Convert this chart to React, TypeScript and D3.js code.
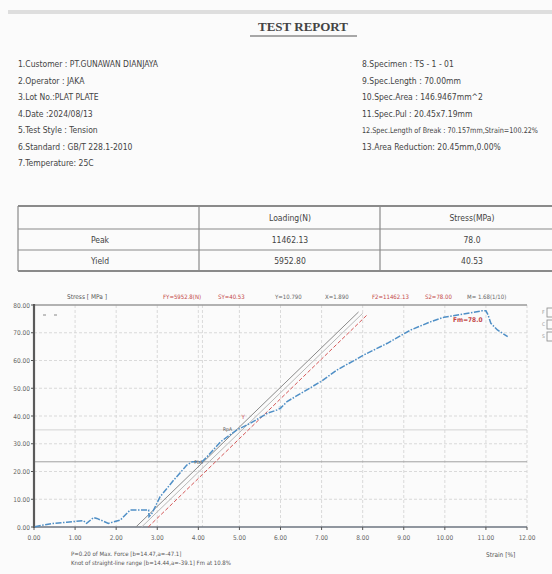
import React from 'react';
import * as d3 from 'd3';

// header text
const titleText = 'TEST REPORT';
const leftInfo = [
    '1.Customer : PT.GUNAWAN DIANJAYA',
    '2.Operator : JAKA',
    '3.Lot No.:PLAT PLATE',
    '4.Date      :2024/08/13',
    '5.Test Style : Tension',
    '6.Standard : GB/T 228.1-2010',
    '7.Temperature: 25C',
];
const rightInfo = [
    '8.Specimen    : TS - 1 - 01',
    '9.Spec.Length : 70.00mm',
    '10.Spec.Area   : 146.9467mm^2',
    '11.Spec.Pul    : 20.45x7.19mm',
    '12.Spec.Length of Break : 70.157mm,Strain=100.22%',
    '13.Area Reduction: 20.45mm,0.00%',
];

// result table
const tableCols = ['', 'Loading(N)', 'Stress(MPa)'];
const tableRows = ['Peak', 'Yield'];
const tableLoad = ['11462.13', '5952.80'];
const tableStress = ['78.0', '40.53'];

// curve: strain (%) vs stress (MPa)
const strainPts = [0.02, 0.23, 0.47, 0.8, 1.2, 1.28, 1.45, 1.53, 1.81, 2.1, 2.34, 2.79, 2.8, 2.87, 3.07, 3.4, 3.72, 3.85, 4.09, 4.21, 4.54, 4.94, 5.27, 5.68, 5.92, 6.0, 6.16, 6.57, 6.98, 7.38, 8.03, 8.6, 9.17, 9.66, 9.98, 10.31, 10.63, 10.9, 11.0, 11.05, 11.12, 11.28, 11.53];
const stressPts = [0.1, 0.7, 1.3, 1.7, 2.3, 1.3, 3.4, 3.1, 1.3, 2.5, 6.1, 6.1, 3.7, 4.9, 10.9, 16.9, 22.3, 23.5, 23.5, 25.3, 30.7, 35.0, 37.4, 41.0, 42.2, 42.8, 45.2, 48.8, 52.4, 56.6, 62.0, 66.2, 71.0, 74.0, 75.6, 76.4, 77.2, 77.9, 77.9, 76.5, 73.4, 71.0, 68.6];

// modulus / offset lines (grey, light grey, red)
const lineX0 = [2.48, 2.62, 2.78];
const lineY0 = [0, 0, 0];
const lineX1 = [7.9, 8.0, 8.12];
const lineY1 = [77.5, 77.0, 76.6];

const refStress = [35, 23.5];
const xTicks = d3.range(0, 13);
const yTicks = d3.range(0, 81, 10);

const topLabels = ['FY=5952.8(N)', 'SY=40.53', 'Y=10.790', 'X=1.890', 'F2=11462.13', 'S2=78.00', 'M= 1.68(1/10)'];
const topLabelX = [163, 218, 275, 325, 372, 425, 467];
const topLabelRed = [true, true, false, false, true, true, false];

const noteLines = [
    'P=0.20 of Max. Force [b=14.47,a=-47.1]',
    'Knot of straight-line range [b=14.44,a=-39.1] Fm at 10.8%',
];

const narrow = "'Liberation Sans Narrow', 'DejaVu Sans Condensed', sans-serif";
const ink = '#444';

export default function App() {
    const x = d3.scaleLinear().domain([0, 12]).range([34, 527]);
    const y = d3.scaleLinear().domain([0, 80]).range([527, 305]);

    const curve = d3.line<number>()
        .x((_, i) => x(strainPts[i]))
        .y(d => y(d));

    const lineColors = ['#8a8a8a', '#b8b8b8', '#d45858'];
    const lineDash = ['none', 'none', '4,2'];

    const tableTop = 206;
    const rowEdges = [206, 229, 250, 271];
    const colEdges = [18, 199, 380, 560];
    const colCenters = [100, 290, 472];

    return (
        <div style={{ position: 'absolute', left: 0, top: 0 }}>
            <svg width={552} height={574} style={{ display: 'block', background: '#fbfbfb' }}>
                {/* scan edge */}
                <rect x={8} y={10} width={544} height={4} fill="#dedede" />

                {/* title */}
                <text x={303} y={31} textAnchor="middle" fontFamily="'Liberation Serif', serif" fontWeight="bold" fontSize={13} fill={ink}>{titleText}</text>
                <line x1={250} x2={357} y1={36} y2={36} stroke="#555" strokeWidth={1.2} />

                {/* info block */}
                {leftInfo.map((t, i) => (
                    <text key={'l' + i} x={18} y={67 + i * 16.5} fontFamily={narrow} fontSize={8.5} fill={ink}>{t}</text>
                ))}
                {rightInfo.map((t, i) => (
                    <text key={'r' + i} x={362} y={67 + i * 16.5} fontFamily={narrow} fontSize={i === 4 ? 7.8 : 8.5} fill={ink}
                        textLength={i === 4 ? 176 : undefined} lengthAdjust="spacingAndGlyphs">{t}</text>
                ))}

                {/* table */}
                <g stroke="#8a8a8a" fill="none">
                    {rowEdges.map((r, i) => (
                        <line key={'rw' + i} x1={colEdges[0]} x2={552} y1={r} y2={r} strokeWidth={i === 0 || i === 3 ? 2 : 1.2} />
                    ))}
                    {colEdges.slice(0, 3).map((c, i) => (
                        <line key={'cl' + i} x1={c} x2={c} y1={tableTop} y2={rowEdges[3]} strokeWidth={1.2} />
                    ))}
                </g>
                {tableCols.map((c, i) => i > 0 && (
                    <text key={'tc' + i} x={colCenters[i]} y={221} textAnchor="middle" fontFamily={narrow} fontSize={8.5} fill={ink}>{c}</text>
                ))}
                {tableRows.map((r, i) => (
                    <g key={'tr' + i} fontFamily={narrow} fontSize={8.5} fill={ink} textAnchor="middle">
                        <text x={colCenters[0]} y={243 + i * 21}>{r}</text>
                        <text x={colCenters[1]} y={243 + i * 21}>{tableLoad[i]}</text>
                        <text x={colCenters[2]} y={243 + i * 21}>{tableStress[i]}</text>
                    </g>
                ))}

                {/* chart grid */}
                <g stroke="#d2d2d2" strokeWidth={0.8} strokeDasharray="3,2">
                    {xTicks.slice(1).map(t => (
                        <line key={'gx' + t} x1={x(t)} x2={x(t)} y1={y(80)} y2={y(0)} />
                    ))}
                    {yTicks.slice(1, -1).map(t => (
                        <line key={'gy' + t} x1={x(0)} x2={x(12)} y1={y(t)} y2={y(t)} />
                    ))}
                    <line x1={x(4.1)} x2={x(4.1)} y1={y(80)} y2={y(0)} />
                </g>
                <line x1={x(0)} x2={x(12)} y1={y(refStress[0])} y2={y(refStress[0])} stroke="#cfcfcf" strokeWidth={0.9} />
                <line x1={x(0)} x2={x(12)} y1={y(refStress[1])} y2={y(refStress[1])} stroke="#a0a0a0" strokeWidth={1} />

                {/* frame / axes */}
                <line x1={x(0)} x2={x(12)} y1={y(80)} y2={y(80)} stroke="#9a9a9a" strokeWidth={1.6} />
                <line x1={x(0)} x2={x(12)} y1={y(0)} y2={y(0)} stroke="#6d7580" strokeWidth={1.4} />
                <line x1={x(0)} x2={x(0)} y1={y(80) - 1} y2={y(0) + 1} stroke="#5a5a5a" strokeWidth={2.2} />

                {yTicks.map(t => (
                    <g key={'yt' + t}>
                        <line x1={x(0) - 3} x2={x(0)} y1={y(t)} y2={y(t)} stroke="#555" strokeWidth={1} />
                        <text x={x(0) - 4} y={y(t) + 2.5} textAnchor="end" fontFamily={narrow} fontSize={6.5} fill="#666">{t.toFixed(2)}</text>
                    </g>
                ))}
                {xTicks.map(t => (
                    <g key={'xt' + t}>
                        <line x1={x(t)} x2={x(t)} y1={y(0)} y2={y(0) + 3} stroke="#555" strokeWidth={1} />
                        <text x={x(t)} y={y(0) + 13} textAnchor="middle" fontFamily={narrow} fontSize={6.5} fill="#666">{t.toFixed(2)}</text>
                    </g>
                ))}

                {/* labels above plot */}
                <text x={67} y={299} fontFamily={narrow} fontSize={6.5} fill="#555">Stress [ MPa ]</text>
                {topLabels.map((t, i) => (
                    <text key={'tl' + i} x={topLabelX[i]} y={299} fontFamily={narrow} fontSize={6} fill={topLabelRed[i] ? '#c44848' : '#666'}>{t}</text>
                ))}

                {/* reference lines */}
                {lineX0.map((_, i) => (
                    <line key={'ml' + i} x1={x(lineX0[i])} y1={y(lineY0[i])} x2={x(lineX1[i])} y2={y(lineY1[i])}
                        stroke={lineColors[i]} strokeWidth={1} strokeDasharray={lineDash[i]} />
                ))}

                {/* test curve */}
                <path d={curve(stressPts) || ''} fill="none" stroke="#4f8fc6" strokeWidth={1.5} strokeDasharray="6,1.5,1.5,1.5" />

                {/* point markers */}
                <text x={x(3.9)} y={y(22.6)} fontFamily={narrow} fontSize={5} fill="#555">PbA</text>
                <text x={x(4.6)} y={y(34.6)} fontFamily={narrow} fontSize={5} fill="#555">RpA</text>
                <text x={x(5.05)} y={y(38.8)} fontFamily={narrow} fontSize={6} fill="#c44848">Y</text>
                <text x={x(6.0) - 2} y={y(42.2)} fontFamily={narrow} fontSize={5} fill="#4f8fc6">▽</text>
                <text x={x(10.2)} y={y(74.0)} fontFamily={narrow} fontSize={6.5} fontWeight="bold" fill="#c44848">Fm=78.0</text>
                <line x1={43} x2={46} y1={315} y2={315} stroke="#888" />
                <line x1={54} x2={57} y1={315} y2={315} stroke="#888" />

                {/* legend stub at the right edge */}
                {['F', 'C', 'S'].map((s, i) => (
                    <g key={'lg' + i}>
                        <text x={542} y={314 + i * 12} fontFamily={narrow} fontSize={5} fill="#999">{s}</text>
                        <rect x={547} y={308 + i * 12} width={8} height={9} fill="none" stroke="#888" strokeWidth={0.8} />
                    </g>
                ))}

                {/* notes */}
                {noteLines.map((t, i) => (
                    <text key={'n' + i} x={71} y={556 + i * 9} fontFamily={narrow} fontSize={6} fill="#555">{t}</text>
                ))}
                <text x={486} y={557} fontFamily={narrow} fontSize={6.5} fill="#555">Strain [%]</text>
            </svg>
        </div>
    );
}
